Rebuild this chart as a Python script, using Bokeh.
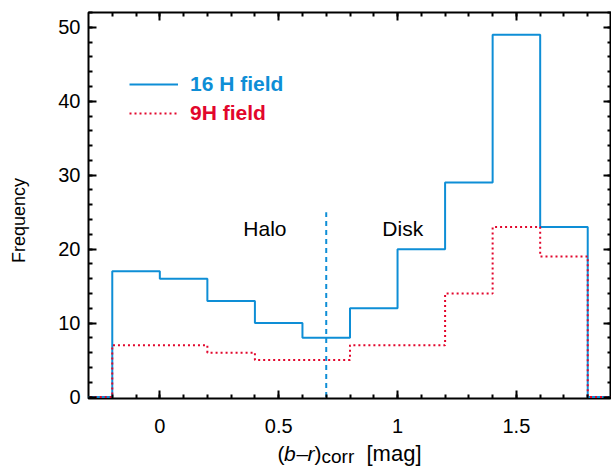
from math import pi
from bokeh.plotting import figure
from bokeh.layouts import row, column
from bokeh.models import (Range1d, LinearAxis, SingleIntervalTicker, Label, Legend,
                          LegendItem, CustomJSTickFormatter)
from bokeh.embed import file_html
from bokeh.resources import INLINE

# ---------------- data ----------------
bin_edges = [-0.4, -0.2, 0.0, 0.2, 0.4, 0.6, 0.8, 1.0, 1.2, 1.4, 1.6, 1.8, 2.0]
counts_16h = [0, 17, 16, 13, 10, 8, 12, 20, 29, 49, 23, 0]
counts_9h = [0, 7, 7, 6, 5, 5, 7, 7, 14, 23, 19, 0]
series_names = ["16 H field", "9H field"]
region_labels = ["Halo", "Disk"]
region_label_x = [0.442, 1.022]
region_label_y = 22.84
divider_x = [0.7]
divider_top = [25]
x_ticks = [0, 0.5, 1, 1.5]
x_tick_labels = ["0", "0.5", "1", "1.5"]
y_ticks = [0, 10, 20, 30, 40, 50]
y_tick_labels = ["0", "10", "20", "30", "40", "50"]
y_title = "Frequency"

BLUE = "#0E8ED6"
RED = "#E2062C"
FONT = "Liberation Sans"

W, H = 611, 467
LEFT_W = 30          # strip holding the y title
BOTTOM_H = 27        # strip holding the x title
FL, FT, FB = 88, 12, 398   # frame edges in page pixels

X0, X1 = -0.3, 1.9
Y0, Y1 = -0.2, 52

p = figure(width=W - LEFT_W, height=H - BOTTOM_H, x_range=Range1d(X0, X1),
           y_range=Range1d(Y0, Y1), output_backend="svg", toolbar_location=None,
           min_border_left=FL - LEFT_W, min_border_right=0, min_border_top=FT,
           min_border_bottom=H - BOTTOM_H - FB)
p.xgrid.visible = False
p.ygrid.visible = False
p.outline_line_color = "black"
p.outline_line_width = 2

xticker = SingleIntervalTicker(interval=0.5, num_minor_ticks=5)
yticker = SingleIntervalTicker(interval=10, num_minor_ticks=5)

def style_axis(ax):
    ax.axis_line_color = None
    ax.major_tick_in = 8
    ax.major_tick_out = 0
    ax.minor_tick_in = 4
    ax.minor_tick_out = 0
    ax.major_tick_line_width = 2
    ax.minor_tick_line_width = 2
    ax.major_tick_line_color = "black"
    ax.minor_tick_line_color = "black"
    ax.major_label_text_font = FONT
    ax.major_label_text_font_size = "20px"
    ax.major_label_text_color = "black"

xa = p.xaxis[0]
xa.ticker = xticker
xa.major_label_overrides = dict(zip(x_ticks, x_tick_labels))
style_axis(xa)
xa.major_label_standoff = 20

ya = p.yaxis[0]
ya.ticker = yticker
ya.major_label_overrides = dict(zip(y_ticks, y_tick_labels))
style_axis(ya)
ya.major_label_standoff = 8

blank = CustomJSTickFormatter(code="return ''")
top = LinearAxis(ticker=xticker, formatter=blank)
style_axis(top)
top.major_label_standoff = 0
p.add_layout(top, "above")
right = LinearAxis(ticker=yticker, formatter=blank)
style_axis(right)
right.major_label_standoff = 0
p.add_layout(right, "right")

# ---------------- histograms ----------------
r16 = p.step(x=bin_edges, y=counts_16h + [counts_16h[-1]], mode="after",
             line_color=BLUE, line_width=2)
r9 = p.step(x=bin_edges, y=counts_9h + [counts_9h[-1]], mode="after",
            line_color=RED, line_width=2, line_dash="2 3")

# dashed halo/disk divider
p.segment(x0=divider_x, y0=[0] * len(divider_x), x1=divider_x, y1=divider_top,
          line_color=BLUE, line_width=2, line_dash="5 4")

for txt, xx in zip(region_labels, region_label_x):
    p.add_layout(Label(x=xx, y=region_label_y, text=txt, text_font=FONT,
                       text_font_size="21px", text_align="center",
                       text_baseline="middle", text_color="black"))

# legends (one per series so each label keeps its own colour)
frame_h = FB - FT
for name, rend, color, cy in [(series_names[0], r16, BLUE, 81), (series_names[1], r9, RED, 110)]:
    lg = Legend(items=[LegendItem(label=name, renderers=[rend])],
                location=(41, frame_h - (cy - FT) - 15),
                padding=0, margin=0, spacing=0,
                glyph_width=49, glyph_height=22, label_height=22,
                label_standoff=12, border_line_color=None, background_fill_alpha=0,
                label_text_font=FONT, label_text_font_size="21px",
                label_text_font_style="bold", label_text_color=color)
    p.add_layout(lg, "center")

# ---------------- title strips (page-pixel coordinates) ----------------
def strip(w, h, x_lo, x_hi):
    s = figure(width=w, height=h, x_range=Range1d(x_lo, x_hi), y_range=Range1d(0, h),
               title=None, output_backend="svg", toolbar_location=None,
               x_axis_location=None, y_axis_location=None,
               min_border=0, min_border_left=0, min_border_right=0,
               min_border_top=0, min_border_bottom=0)
    s.xgrid.visible = False
    s.ygrid.visible = False
    s.outline_line_color = None
    return s

left_strip = strip(LEFT_W, H, 0, LEFT_W)
left_strip.add_layout(Label(x=18, y=H - 220, text=y_title, angle=pi / 2,
                            text_font=FONT, text_font_size="18px", text_align="center",
                            text_baseline="middle", text_color="black"))

# the column aligns this strip's frame with the main frame (page x 88..611)
bottom_strip = strip(W - LEFT_W, BOTTOM_H, FL, W)
mid = 452.5
pieces = [("(", 277, "normal", "21px", mid),
          ("b", 283.5, "italic", "21px", mid),
          ("–", 296, "normal", "21px", mid),
          ("r", 307, "italic", "21px", mid),
          (")", 314, "normal", "21px", mid),
          ("corr", 321, "normal", "19px", 455.5),
          ("[mag]", 366, "normal", "22px", 452.8)]
for txt, px, style, size, py in pieces:
    bottom_strip.add_layout(Label(x=px, y=H - py, text=txt, text_font=FONT,
                                  text_font_style=style, text_font_size=size,
                                  text_align="left", text_baseline="middle",
                                  text_color="black"))

layout = row(left_strip, column(p, bottom_strip, spacing=0), spacing=0)
open("out.html", "w").write(file_html(layout, INLINE))
